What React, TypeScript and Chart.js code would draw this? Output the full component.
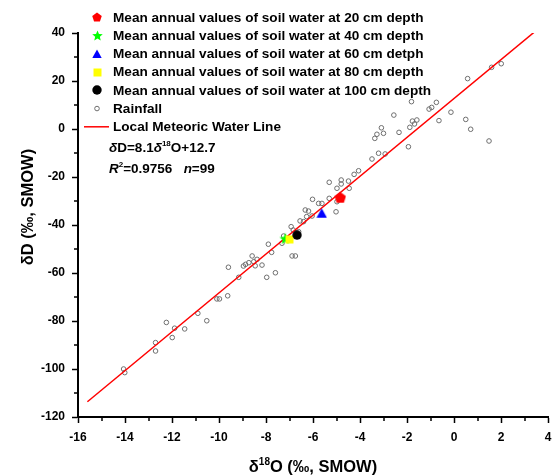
import React, { useEffect, useRef } from 'react';
import { Chart, registerables } from 'chart.js';

Chart.register(...registerables);

// ---------------- data ----------------
const RAIN_D18O = [
  1.60, 2.01, 0.58, -1.81, -0.75, -1.06, -0.95, -2.56, -0.13, -1.77,
  -1.58, -1.68, -1.88, -0.64, 0.50, 0.71, 1.49, -2.34, -3.09, -3.00,
  -3.28, -3.37, -1.94, -3.21, -2.93, -3.49,
  -4.25, -4.06, -5.31, -4.80, -4.80, -4.49, -4.98, -4.46, -6.02, -5.76,
  -5.62, -5.31, -4.98, -5.02, -6.33, -6.19, -6.04, -6.27, -6.55, -6.40,
  -6.93, -6.84, -6.61, -7.25, -7.32, -7.90, -7.76, -6.89, -6.75, -8.59,
  -8.38, -8.73, -8.52, -8.87, -8.96, -8.46, -8.17, -9.60, -9.16, -7.97,
  -7.60, -10.09, -9.98, -9.63,
  -10.90, -10.52, -12.24, -11.89, -11.46, -11.99, -12.70, -12.70, -14.06, -14.01,
];
const RAIN_DD = [
  25.7, 27.2, 21.0, 11.4, 11.1, 8.3, 9.0, 5.8, 7.0, 3.3,
  3.75, 2.1, 0.7, 3.5, 4.0, -0.1, -5.0, -1.4, 0.5, -1.8,
  -2.2, -3.9, -7.4, -10.1, -10.4, -12.5,
  -18.9, -17.4, -22.2, -21.25, -22.9, -21.7, -24.7, -24.7, -29.3, -31.0,
  -31.0, -28.9, -30.3, -34.5, -33.75, -34.2, -36.25, -36.5, -38.3, -38.6,
  -40.7, -42.1, -42.8, -44.6, -47.6, -48.0, -51.4, -52.9, -52.9, -52.9,
  -54.3, -55.7, -55.3, -56.4, -57.1, -57.0, -56.7, -57.6, -61.8, -61.8,
  -59.9, -70.8, -70.8, -69.5,
  -76.8, -79.9, -80.6, -83.0, -83.3, -86.9, -89.0, -92.5, -100.0, -101.5,
];

const SOIL_LABELS = [
  'Mean annual values of soil water at 20 cm depth',
  'Mean annual values of soil water at 40 cm depth',
  'Mean annual values of soil water at 60 cm detph',
  'Mean annual values of soil water at 80 cm depth',
  'Mean annual values of soil water at 100 cm depth',
];
const SOIL_D18O = [-4.84, -7.18, -5.63, -7.0, -6.68];
const SOIL_DD = [-28.5, -45.6, -35.1, -46.0, -44.2];
const SOIL_COLORS = ['#ff0000', '#00ff00', '#0000ff', '#ffff00', '#000000'];
const SOIL_SHAPES = ['pentagon', 'star', 'triangle', 'square', 'circle'];

const RAIN_LABEL = 'Rainfall';
const LINE_LABEL = 'Local Meteoric Water Line';
const LMWL_SLOPE = 8.1;
const LMWL_INTERCEPT = 12.7;
const LMWL_X = [-15.6, 3.4];
const R2_TEXT = '0.9756';
const N_TEXT = '99';

const X_MIN = -16, X_MAX = 4, X_STEP = 2;
const Y_MIN = -120, Y_MAX = 40, Y_STEP = 20;

// ---------------- helpers ----------------
const FONT = '"Liberation Sans", Arial, sans-serif';

function makeMarker(shape: string, color: string, size: number): HTMLCanvasElement {
  const c = document.createElement('canvas');
  c.width = size;
  c.height = size;
  const g = c.getContext('2d')!;
  g.fillStyle = color;
  const cx = size / 2;
  const r = size / 2;
  g.beginPath();
  if (shape === 'pentagon') {
    const cy = size / 2 + r * 0.1;
    for (let i = 0; i < 5; i++) {
      const a = -Math.PI / 2 + (i * 2 * Math.PI) / 5;
      const px = cx + r * Math.cos(a);
      const py = cy + r * Math.sin(a);
      if (i === 0) g.moveTo(px, py); else g.lineTo(px, py);
    }
  } else if (shape === 'star') {
    const cy = size / 2 + r * 0.1;
    for (let i = 0; i < 10; i++) {
      const a = -Math.PI / 2 + (i * Math.PI) / 5;
      const rr = i % 2 === 0 ? r : r * 0.45;
      const px = cx + rr * Math.cos(a);
      const py = cy + rr * Math.sin(a);
      if (i === 0) g.moveTo(px, py); else g.lineTo(px, py);
    }
  } else if (shape === 'triangle') {
    g.moveTo(cx, 0.5);
    g.lineTo(size - 0.3, size - 1);
    g.lineTo(0.3, size - 1);
  } else if (shape === 'square') {
    g.rect(0.5, 0.5, size - 1, size - 1);
  } else {
    g.arc(cx, size / 2, r - 0.3, 0, Math.PI * 2);
  }
  g.closePath();
  g.fill();
  return c;
}

const MARKER_SIZES: Record<string, number> = {
  pentagon: 12, star: 12, triangle: 11, square: 9, circle: 10,
};
const LEGEND_SIZES: Record<string, number> = {
  pentagon: 10, star: 11, triangle: 10, square: 9, circle: 10,
};

type Seg = { t: string; it?: boolean; sup?: boolean };

function drawRich(ctx: CanvasRenderingContext2D, segs: Seg[], x: number, yBase: number, size: number) {
  let cx = x;
  for (const s of segs) {
    const fs = s.sup ? Math.round(size * 0.62) : size;
    ctx.font = `${s.it ? 'italic ' : ''}bold ${fs}px ${FONT}`;
    const dy = s.sup ? -size * 0.42 : 0;
    ctx.fillText(s.t, cx, yBase + dy);
    cx += ctx.measureText(s.t).width;
  }
  return cx - x;
}

function richWidth(ctx: CanvasRenderingContext2D, segs: Seg[], size: number) {
  let w = 0;
  for (const s of segs) {
    const fs = s.sup ? Math.round(size * 0.62) : size;
    ctx.font = `${s.it ? 'italic ' : ''}bold ${fs}px ${FONT}`;
    w += ctx.measureText(s.t).width;
  }
  return w;
}

export default function App() {
  const ref = useRef<HTMLCanvasElement | null>(null);

  useEffect(() => {
    const canvas = ref.current!;
    const markers = SOIL_SHAPES.map((s, i) => makeMarker(s, SOIL_COLORS[i], MARKER_SIZES[s]));
    const legendMarkers = SOIL_SHAPES.map((s, i) => makeMarker(s, SOIL_COLORS[i], LEGEND_SIZES[s]));

    const soilOrder = [1, 3, 1, 2, 0];
    const soilSets = SOIL_LABELS.map((label, i) => ({
      label,
      data: [{ x: SOIL_D18O[i], y: SOIL_DD[i] }],
      pointStyle: markers[i] as any,
      pointRadius: 6,
      backgroundColor: SOIL_COLORS[i],
      borderColor: SOIL_COLORS[i],
      order: soilOrder[i],
      showLine: false,
    }));

    const rainSet = {
      label: RAIN_LABEL,
      data: RAIN_D18O.map((x, i) => ({ x, y: RAIN_DD[i] })),
      pointStyle: 'circle' as const,
      pointRadius: 2.3,
      borderWidth: 1,
      borderColor: '#6e6e6e',
      backgroundColor: 'rgba(255,255,255,0)',
      order: 11,
      showLine: false,
    };

    const lineSet = {
      label: LINE_LABEL,
      data: LMWL_X.map((x) => ({ x, y: LMWL_SLOPE * x + LMWL_INTERCEPT })),
      showLine: true,
      pointRadius: 0,
      borderColor: '#ff0000',
      borderWidth: 1.5,
      order: 10,
    };

    const overlay = {
      id: 'overlay',
      afterDraw(chart: any) {
        const ctx: CanvasRenderingContext2D = chart.ctx;
        ctx.save();
        ctx.fillStyle = '#000';
        ctx.textBaseline = 'middle';
        ctx.textAlign = 'left';
        // legend
        const mx = 97, tx = 113, y0 = 17.3, dy = 18.25;
        const labels = [...SOIL_LABELS, RAIN_LABEL, LINE_LABEL];
        labels.forEach((lab, i) => {
          const y = y0 + i * dy;
          if (i < 5) {
            const m = legendMarkers[i];
            ctx.drawImage(m, Math.round(mx - m.width / 2), Math.round(y - m.height / 2));
          } else if (i === 5) {
            ctx.beginPath();
            ctx.arc(mx, y, 2.3, 0, Math.PI * 2);
            ctx.strokeStyle = '#6e6e6e';
            ctx.lineWidth = 1;
            ctx.stroke();
          } else {
            ctx.beginPath();
            ctx.moveTo(84, y);
            ctx.lineTo(109, y);
            ctx.strokeStyle = '#ff0000';
            ctx.lineWidth = 1.5;
            ctx.stroke();
          }
          ctx.font = `bold 13.6px ${FONT}`;
          ctx.fillStyle = '#000';
          ctx.fillText(lab, tx, y + 0.5);
        });
        // equation
        ctx.textBaseline = 'alphabetic';
        const eq: Seg[] = [
          { t: 'δ', it: true }, { t: `D=${LMWL_SLOPE}` }, { t: 'δ', it: true },
          { t: '18', sup: true }, { t: `O+${LMWL_INTERCEPT}` },
        ];
        drawRich(ctx, eq, 109, 151.5, 13.5);
        const r2: Seg[] = [
          { t: 'R', it: true }, { t: '2', sup: true }, { t: `=${R2_TEXT}   ` },
          { t: 'n', it: true }, { t: `=${N_TEXT}` },
        ];
        drawRich(ctx, r2, 109, 173, 13.5);
        // x title
        const xt: Seg[] = [{ t: 'δ' }, { t: '18', sup: true }, { t: 'O (‰, SMOW)' }];
        const xw = richWidth(ctx, xt, 16.5);
        drawRich(ctx, xt, 313 - xw / 2, 472, 16.5);
        // y title
        ctx.save();
        ctx.translate(33, 207);
        ctx.rotate(-Math.PI / 2);
        const yt: Seg[] = [{ t: 'δD (‰, SMOW)' }];
        const yw = richWidth(ctx, yt, 16.5);
        drawRich(ctx, yt, -yw / 2, 0, 16.5);
        ctx.restore();
        // minor ticks
        const xs = chart.scales.x;
        const ys = chart.scales.y;
        ctx.strokeStyle = '#000';
        ctx.lineWidth = 1.5;
        ctx.beginPath();
        for (let v = X_MIN + X_STEP / 2; v < X_MAX; v += X_STEP) {
          const px = Math.round(xs.getPixelForValue(v));
          ctx.moveTo(px, chart.chartArea.bottom);
          ctx.lineTo(px, chart.chartArea.bottom + 4);
        }
        for (let v = Y_MIN + Y_STEP / 2; v < Y_MAX; v += Y_STEP) {
          const py = Math.round(ys.getPixelForValue(v));
          ctx.moveTo(chart.chartArea.left, py);
          ctx.lineTo(chart.chartArea.left - 4, py);
        }
        ctx.stroke();
        ctx.restore();
      },
    };

    const tickFont = { family: FONT, size: 12, weight: 'bold' as const };

    const chart = new Chart(canvas, {
      type: 'scatter',
      data: { datasets: [...soilSets, lineSet, rainSet] as any },
      options: {
        animation: false,
        responsive: false,
        devicePixelRatio: 1,
        layout: { autoPadding: false, padding: { top: 33, right: 5, left: 0, bottom: 0 } },
        plugins: { legend: { display: false }, tooltip: { enabled: false } },
        scales: {
          x: {
            type: 'linear',
            min: X_MIN,
            max: X_MAX,
            afterFit: (s: any) => { s.height = 58; s.paddingLeft = 0; s.paddingRight = 0; },
            ticks: { stepSize: X_STEP, color: '#000', font: tickFont, padding: 7, maxRotation: 0 },
            grid: { drawOnChartArea: false, tickLength: 6, tickWidth: 1.5, tickColor: '#000' },
            border: { display: true, color: '#000', width: 2 },
          },
          y: {
            type: 'linear',
            min: Y_MIN,
            max: Y_MAX,
            afterFit: (s: any) => { s.width = 78; s.paddingTop = 0; s.paddingBottom = 0; },
            ticks: { stepSize: Y_STEP, color: '#000', font: tickFont, padding: 7 },
            grid: { drawOnChartArea: false, tickLength: 6, tickWidth: 1.5, tickColor: '#000' },
            border: { display: true, color: '#000', width: 2 },
          },
        },
      },
      plugins: [overlay],
    });
    return () => chart.destroy();
  }, []);

  return (
    <div style={{ position: 'fixed', left: 0, top: 0, width: 553, height: 475, background: '#fff' }}>
      <canvas ref={ref} width={553} height={475} style={{ display: 'block' }} />
    </div>
  );
}
